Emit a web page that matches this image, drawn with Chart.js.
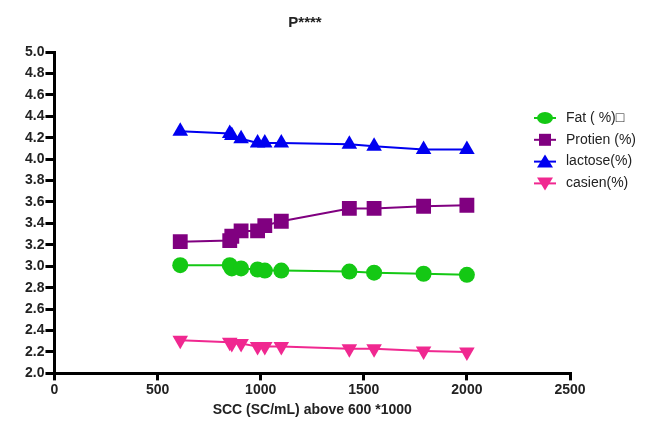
<!DOCTYPE html>
<html>
<head>
<meta charset="utf-8">
<script src="https://cdn.jsdelivr.net/npm/chart.js@4.4.0/dist/chart.umd.min.js"></script>
<style>
  html, body { margin: 0; padding: 0; background: #ffffff; }
  #wrap { width: 670px; height: 423px; }
</style>
</head>
<body>
<div id="wrap"><canvas id="sccChart" width="670" height="423"></canvas></div>
<script>
// SCC values (x axis, *1000 SC/mL)
const scc = [610, 850, 860, 905, 985, 1020, 1100, 1430, 1550, 1790, 2000];

// series values
const fat = [3.01, 3.01, 2.98, 2.98, 2.97, 2.96, 2.96, 2.95, 2.94, 2.93, 2.92];
const protein = [3.23, 3.24, 3.28, 3.33, 3.33, 3.38, 3.42, 3.54, 3.54, 3.56, 3.57];
const lactose = [4.26, 4.24, 4.22, 4.19, 4.15, 4.15, 4.15, 4.14, 4.12, 4.09, 4.09];
const casein = [2.31, 2.29, 2.28, 2.28, 2.25, 2.25, 2.25, 2.23, 2.23, 2.21, 2.20];

const seriesLabels = ['Fat ( %)\u25A1', 'Protien (%)', 'lactose(%)', 'casien(%)'];
const titleText = 'P****';

const fontFam = 'Arial, "Liberation Sans", sans-serif';

function pts(ys) {
    return scc.map((x, i) => ({ x: x, y: ys[i] }));
}

function makeSet(label, ys, color, style, radius) {
    return {
        label: label,
        data: pts(ys),
        borderColor: color,
        backgroundColor: color,
        borderWidth: 2,
        pointStyle: style,
        pointRadius: radius,
        pointHoverRadius: radius,
        pointBorderWidth: 0,
        tension: 0
    };
}

// title + legend on the right with a line through each marker
const sideLegend = {
    id: 'sideLegend',
    afterDraw(chart) {
        const ctx = chart.ctx;
        ctx.save();
        ctx.fillStyle = '#222222';
        ctx.font = 'bold 15px ' + fontFam;
        ctx.textAlign = 'center';
        ctx.textBaseline = 'middle';
        ctx.fillText(titleText, 305, 23);
        ctx.restore();

        const x0 = 545, y0 = 118, gap = 21.8;
        chart.data.datasets.forEach((ds, i) => {
            const y = y0 + i * gap;
            ctx.save();
            ctx.strokeStyle = ds.borderColor;
            ctx.lineWidth = 2;
            ctx.beginPath();
            ctx.moveTo(x0 - 11, y);
            ctx.lineTo(x0 + 11, y);
            ctx.stroke();
            ctx.fillStyle = ds.borderColor;
            ctx.beginPath();
            const r = 7;
            if (ds.pointStyle === 'circle') {
                ctx.ellipse(x0, y, 8, 6, 0, 0, Math.PI * 2);
            } else if (ds.pointStyle === 'rect') {
                ctx.rect(x0 - 6, y - 6, 12, 12);
            } else if (i === 2) {
                ctx.moveTo(x0, y - r); ctx.lineTo(x0 + r + 1, y + r - 1); ctx.lineTo(x0 - r - 1, y + r - 1);
            } else {
                ctx.moveTo(x0, y + r); ctx.lineTo(x0 + r + 1, y - r + 1); ctx.lineTo(x0 - r - 1, y - r + 1);
            }
            ctx.closePath();
            ctx.fill();
            ctx.fillStyle = '#222222';
            ctx.font = '14px ' + fontFam;
            ctx.textBaseline = 'middle';
            ctx.fillText(ds.label, x0 + 21, y);
            ctx.restore();
        });
    }
};

const fatSet = makeSet(seriesLabels[0], fat, '#14c814', 'circle', 8);
const protSet = makeSet(seriesLabels[1], protein, '#800080', 'rect', 10.5);
const lacSet = makeSet(seriesLabels[2], lactose, '#0000f0', 'triangle', 9);
const casSet = makeSet(seriesLabels[3], casein, '#f02890', 'triangle', 9);
casSet.pointRotation = 180;

new Chart(document.getElementById('sccChart'), {
    type: 'line',
    data: { datasets: [fatSet, protSet, lacSet, casSet] },
    options: {
        responsive: false,
        animation: false,
        layout: { padding: { left: 24, right: 100, top: 52, bottom: 4 } },
        plugins: {
            legend: { display: false },
            tooltip: { enabled: false },
            title: { display: false }
        },
        scales: {
            x: {
                type: 'linear',
                min: 0,
                max: 2500,
                border: { color: '#000000', width: 3 },
                grid: { drawOnChartArea: false, drawTicks: true, tickLength: 7, color: '#000000', lineWidth: 3 },
                ticks: {
                    stepSize: 500,
                    color: '#222222',
                    padding: 1,
                    font: { family: fontFam, size: 14, weight: 'bold' },
                    callback: v => String(v)
                },
                title: {
                    display: true,
                    text: 'SCC (SC/mL) above 600 *1000',
                    color: '#222222',
                    font: { family: fontFam, size: 14, weight: 'bold' },
                    padding: { top: 3, bottom: 0 }
                }
            },
            y: {
                min: 2,
                max: 5,
                border: { color: '#000000', width: 3 },
                grid: { drawOnChartArea: false, drawTicks: true, tickLength: 9, color: '#000000', lineWidth: 3 },
                ticks: {
                    stepSize: 0.2,
                    color: '#222222',
                    padding: 1,
                    font: { family: fontFam, size: 14, weight: 'bold' },
                    callback: v => Number(v).toFixed(1)
                }
            }
        }
    },
    plugins: [sideLegend]
});
</script>
</body>
</html>
